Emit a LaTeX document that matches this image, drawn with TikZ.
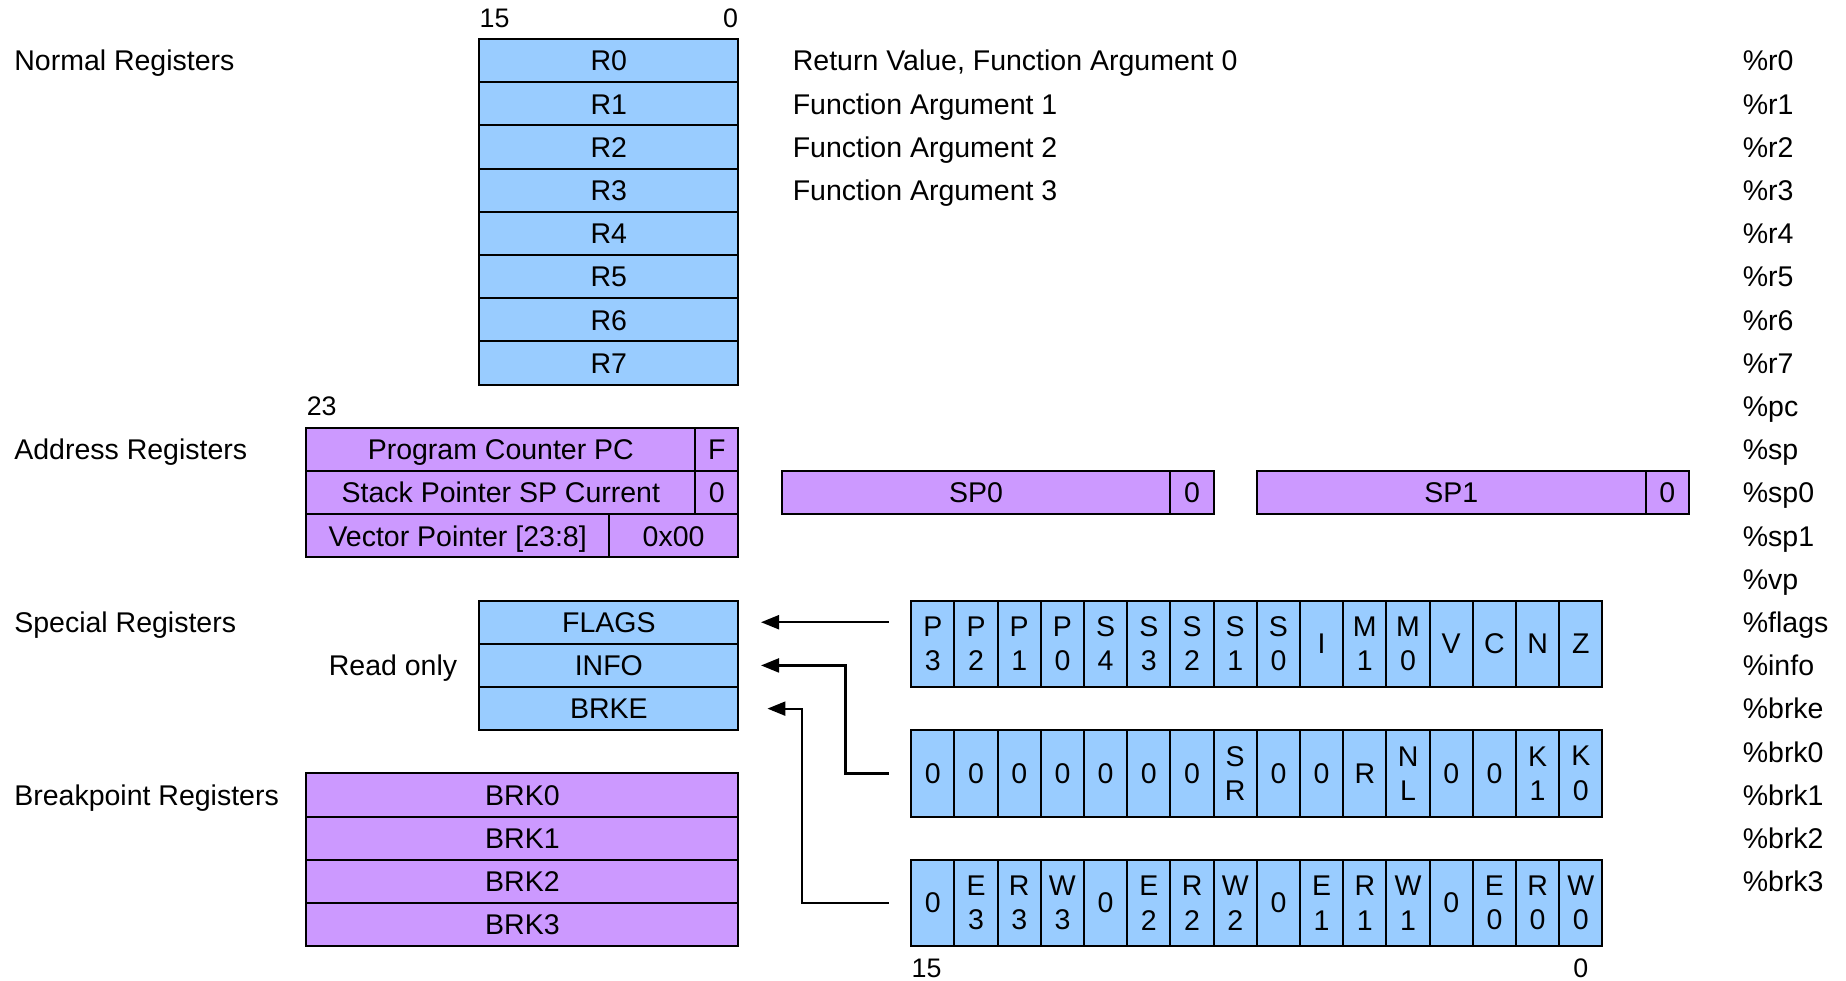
\documentclass[tikz,border=0pt]{standalone}
\usepackage{fontspec}
\setmainfont{Liberation Sans}
\usetikzlibrary{arrows.meta,calc}
\definecolor{regblue}{HTML}{99CCFF}
\definecolor{regpurple}{HTML}{CC99FF}

\begin{document}
\begin{tikzpicture}[
        x=21.6pt, y=-21.6pt, % one grid step = one bit cell, y runs downwards
        every node/.style={font=\fontsize{14.25pt}{17.2pt}\selectfont},
        cell/.style={draw, line width=1pt, minimum height=21.6pt, inner sep=0pt, text centered, text height=10.2pt, text depth=0pt},
        blue cell/.style={cell, fill=regblue},
        purple cell/.style={cell, fill=regpurple},
        bit/.style={draw, line width=1pt, fill=regblue, inner sep=0pt, minimum width=21.6pt, minimum height=43.2pt, align=center},
        regname/.style={inner sep=0pt, anchor=west, text height=10.2pt, text depth=0pt},
        bitnum/.style={inner sep=0pt, text height=9.6pt, text depth=0pt, font=\fontsize{13.4pt}{15pt}\selectfont},
        flow/.style={draw, line width=1.1pt, -{Triangle[length=9pt,width=7pt]}}
    ]
    \useasboundingbox (-11.093,-0.903) rectangle (31.638,21.782);

    % normal registers
    \node[regname] (normal) at (-10.77,0.5) {Normal Registers};
    \node[bitnum, anchor=west] (rhigh) at (0,-0.5) {15};
    \node[bitnum, anchor=east] (rlow) at (6,-0.5) {0};
    \foreach \i in {0,...,7}
        \node[blue cell, minimum width=129.6pt] (r\i) at (3,\i+0.5) {R\i};
    \foreach \t [count=\i from 0] in {{Return Value, Function Argument 0}, Function Argument 1, Function Argument 2, Function Argument 3}
        \node[regname] (arg\i) at (7.25,\i+0.5) {\t};

    % assembler names
    \foreach \n [count=\i from 0] in {r0,r1,r2,r3,r4,r5,r6,r7,pc,sp,sp0,sp1,vp,flags,info,brke,brk0,brk1,brk2,brk3}
        \node[regname] (asm\n) at (29.24,\i+0.5) {\%\n};

    % address registers
    \node[regname] (address) at (-10.77,9.5) {Address Registers};
    \node[bitnum, anchor=west] (ahigh) at (-4,8.5) {23};
    \node[purple cell, minimum width=194.4pt] (pc) at (0.5,9.5) {Program Counter PC};
    \node[purple cell, minimum width=21.6pt] (pcf) at (5.5,9.5) {F};
    \node[purple cell, minimum width=194.4pt] (sp) at (0.5,10.5) {Stack Pointer SP Current};
    \node[purple cell, minimum width=21.6pt] (spz) at (5.5,10.5) {0};
    \node[purple cell, minimum width=151.2pt] (vp) at (-0.5,11.5) {Vector Pointer [23:8]};
    \node[purple cell, minimum width=64.8pt] (vpz) at (4.5,11.5) {0x00};
    \node[purple cell, minimum width=194.4pt] (sp0) at (11.5,10.5) {SP0};
    \node[purple cell, minimum width=21.6pt] (sp0z) at (16.5,10.5) {0};
    \node[purple cell, minimum width=194.4pt] (sp1) at (22.5,10.5) {SP1};
    \node[purple cell, minimum width=21.6pt] (sp1z) at (27.5,10.5) {0};

    % special registers
    \node[regname] (special) at (-10.77,13.5) {Special Registers};
    \node[regname, anchor=east] (readonly) at (-0.5,14.5) {Read only};
    \node[blue cell, minimum width=129.6pt] (flags) at (3,13.5) {FLAGS};
    \node[blue cell, minimum width=129.6pt] (info) at (3,14.5) {INFO};
    \node[blue cell, minimum width=129.6pt] (brke) at (3,15.5) {BRKE};

    \foreach \b [count=\i from 0] in {{P\\3},{P\\2},{P\\1},{P\\0},{S\\4},{S\\3},{S\\2},{S\\1},{S\\0},I,{M\\1},{M\\0},V,C,N,Z}
        \node[bit] (flag\i) at (10.5+\i,14) {\b};
    \foreach \b [count=\i from 0] in {0,0,0,0,0,0,0,{S\\R},0,0,R,{N\\L},0,0,{K\\1},{K\\0}}
        \node[bit] (info\i) at (10.5+\i,17) {\b};
    \foreach \b [count=\i from 0] in {0,{E\\3},{R\\3},{W\\3},0,{E\\2},{R\\2},{W\\2},0,{E\\1},{R\\1},{W\\1},0,{E\\0},{R\\0},{W\\0}}
        \node[bit] (brke\i) at (10.5+\i,20) {\b};
    \node[bitnum, anchor=west] (bhigh) at (10,21.5) {15};
    \node[bitnum] (blow) at (25.5,21.5) {0};

    \draw[flow] ($(flag0.west |- flags.east)+(-0.5,0)$) -- ([xshift=10.8pt]flags.east);
    \draw[flow] ($(info0.west)+(-0.5,0)$) -- ++(-1,0) |- ([xshift=10.8pt]info.east);
    \draw[flow] ($(brke0.west)+(-0.5,0)$) -- ++(-2,0) |- ([xshift=14pt]brke.east);

    % breakpoint registers
    \node[regname] (breakpoint) at (-10.77,17.5) {Breakpoint Registers};
    \foreach \i in {0,...,3}
        \node[purple cell, minimum width=216pt] (brk\i) at (1,17.5+\i) {BRK\i};
\end{tikzpicture}
\end{document}
